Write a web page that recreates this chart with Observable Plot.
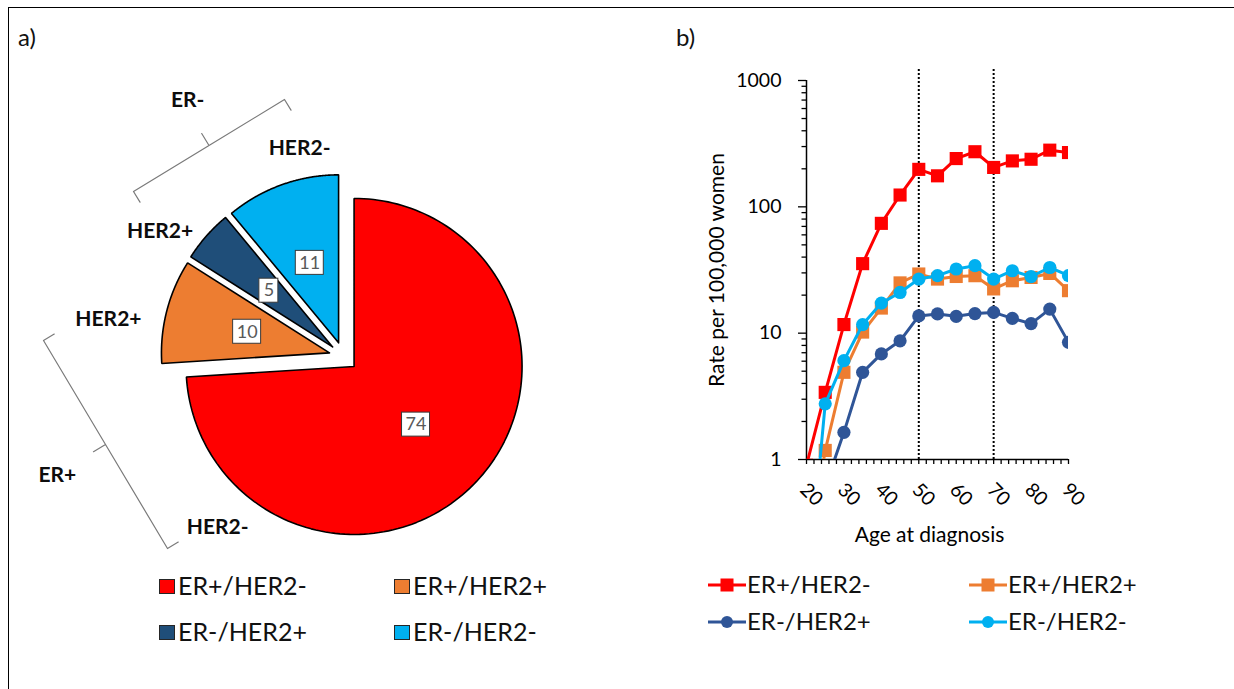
<!DOCTYPE html>
<html><head><meta charset="utf-8">
<script src="https://cdn.jsdelivr.net/npm/d3@7"></script>
<script src="https://cdn.jsdelivr.net/npm/@observablehq/plot@0.6"></script>
<style>
body{margin:0;background:#fff;font-family:Lato,"Open Sans",sans-serif;}
#root{position:relative;width:1234px;height:689px;overflow:hidden;background:#fff;}
.abs{position:absolute;white-space:nowrap;}
svg{overflow:visible;}
</style></head><body><div id="root"></div>
<script>
// ---------- data ----------
const subtypes = ["ER+/HER2-", "ER+/HER2+", "ER-/HER2+", "ER-/HER2-"];
const pieShares = [74, 10, 5, 11];
const pieColors = ["#FF0000", "#ED7D31", "#1F4E79", "#00B0F0"];
const lineColors = ["#FF0000", "#ED7D31", "#2F5597", "#00B0F0"];
const lineSymbols = ["square", "square", "circle", "circle"];

const ages = [20, 25, 30, 35, 40, 45, 50, 55, 60, 65, 70, 75, 80, 85, 90];
const rateERposHER2neg = [0.9, 3.4, 11.7, 35.5, 74, 124, 198, 176, 241, 273, 205, 231, 238, 281, 269];
const rateERposHER2pos = [0.15, 1.18, 4.9, 10.2, 15.8, 25, 29.4, 26.8, 28.1, 28.5, 22.4, 26, 27.6, 29.7, 21.7];
const rateERnegHER2pos = [null, 0.61, 1.64, 4.9, 6.85, 8.7, 13.7, 14.2, 13.6, 14.3, 14.6, 13.1, 11.9, 15.5, 8.46];
const rateERnegHER2neg = [0.07, 2.76, 6.06, 11.7, 17.3, 21, 26.8, 28.5, 32.2, 34.2, 26.8, 31.2, 28, 33.1, 28.5];
const rateSeries = [rateERposHER2neg, rateERposHER2pos, rateERnegHER2pos, rateERnegHER2neg];

const yTicks = [1, 10, 100, 1000];
const yMinorTicks = [2,3,4,5,6,7,8,9,20,30,40,50,60,70,80,90,200,300,400,500,600,700,800,900];
const xTickLabels = [20, 30, 40, 50, 60, 70, 80, 90];
const xMinorTicks = d3.range(20, 91, 2);
const cutAges = [50, 70];

const sliceLabels = ["HER2-", "HER2+", "HER2+", "HER2-"];
const groupLabels = ["ER+", "ER-"];

// ---------- page ----------
const root = document.getElementById("root");
function addText(txt, x, yc, fs, extra) {
  const d = document.createElement("div");
  d.className = "abs";
  d.textContent = txt;
  d.style.left = x + "px";
  d.style.top = (yc - 0.528 * fs) + "px";
  d.style.fontSize = fs + "px";
  d.style.lineHeight = fs + "px";
  d.style.color = "#111";
  Object.assign(d.style, extra || {});
  root.appendChild(d);
  return d;
}
function place(el, x, y) {
  const w = document.createElement("div");
  w.className = "abs"; w.style.left = x + "px"; w.style.top = y + "px";
  w.appendChild(el); root.appendChild(w);
}
// frame lines
const frame = document.createElement("div");
frame.className = "abs";
Object.assign(frame.style, {left: "8px", top: "7px", width: "1240px", height: "700px",
  borderTop: "1.5px solid #000", borderLeft: "1.5px solid #000"});
root.appendChild(frame);

addText("a)", 18, 37.5, 24);
addText("b)", 676, 37.5, 24);

// ---------- pie (panel a) ----------
const W1 = 620, H1 = 560;
const pieCenter = [343, 356], pieR = 168, explode = 14.5, labelDist = 85;
const pt = (a, r, o) => [o[0] + r * Math.sin(a), o[1] - r * Math.cos(a)];
const arcs = d3.pie().sort(null).startAngle(0).endAngle(2 * Math.PI)(pieShares);
const slicePolys = [];
const valueLabels = [];
arcs.forEach((a, i) => {
  const mid = (a.startAngle + a.endAngle) / 2;
  const apex = pt(mid, explode, pieCenter);
  const poly = [{x: apex[0], y: apex[1]}];
  const n = 160;
  for (let j = 0; j <= n; j++) {
    const t = a.startAngle + (a.endAngle - a.startAngle) * j / n;
    const p = pt(t, pieR, apex);
    poly.push({x: p[0], y: p[1]});
  }
  poly.push({x: apex[0], y: apex[1]});
  slicePolys.push(poly);
  const lp = pt(mid, labelDist, apex);
  valueLabels.push({x: lp[0], y: lp[1], v: pieShares[i], w: pieShares[i] >= 10 ? 28 : 19});
});
// annotation labels placed in polar coordinates around the pie centre (deg, px)
const sliceLabelPolar = [[216.4, 212], [279, 238], [304.3, 222], [348.1, 213]];
const groupLabelPolar = [[247.4, 310], [328.7, 300]];
const annot = [];
sliceLabelPolar.forEach(([deg, r], i) => { const p = pt(deg * Math.PI / 180, r, pieCenter); annot.push({x: p[0], y: p[1], t: sliceLabels[i]}); });
groupLabelPolar.forEach(([deg, r], i) => { const p = pt(deg * Math.PI / 180, r, pieCenter); annot.push({x: p[0], y: p[1], t: groupLabels[i]}); });
// braces: [start, end] in panel coords
const braceEnds = [[[43, 340], [167, 548]], [[133, 191], [284, 99]]];
function brace([p0, p1], hook, notch) {
  const dx = p1[0] - p0[0], dy = p1[1] - p0[1], L = Math.hypot(dx, dy);
  let nx = -dy / L, ny = dx / L;
  const mx = (p0[0] + p1[0]) / 2, my = (p0[1] + p1[1]) / 2;
  if ((pieCenter[0] - mx) * nx + (pieCenter[1] - my) * ny < 0) { nx = -nx; ny = -ny; }
  return [[p0[0] + hook * nx, p0[1] + hook * ny], p0, [mx, my], [mx - notch * nx, my - notch * ny], [mx, my], p1, [p1[0] + hook * nx, p1[1] + hook * ny]]
    .map(([x, y]) => ({x, y}));
}
const braces = braceEnds.map(b => brace(b, 12.5, 14));

const pie = Plot.plot({
  width: W1, height: H1, margin: 0,
  x: {domain: [0, W1], range: [0, W1], axis: null},
  y: {domain: [0, H1], range: [0, H1], axis: null},
  style: {fontFamily: "Lato", background: "transparent"},
  marks: [
    ...slicePolys.map((poly, i) => Plot.line(poly, {x: "x", y: "y", fill: pieColors[i], stroke: "#000", strokeWidth: 1.6, strokeLinejoin: "miter"})),
    Plot.rect(valueLabels, {x1: d => d.x - d.w / 2, x2: d => d.x + d.w / 2, y1: d => d.y - 12, y2: d => d.y + 12, fill: "#fff", stroke: "#3a3a3a", strokeWidth: 1}),
    Plot.text(valueLabels, {x: "x", y: "y", text: d => String(d.v), fill: "#595959", fontSize: 18}),
    ...braces.map(b => Plot.line(b, {x: "x", y: "y", stroke: "#7a7a7a", strokeWidth: 1.2, curve: "linear"})),
    Plot.text(annot, {x: "x", y: "y", text: "t", fontSize: 21, fontWeight: "bold", fill: "#0d0d0d"})
  ]
});
place(pie, 0, 0);

// pie legend
const pieLegendPos = [[159, 586], [394, 586], [159, 632.5], [394, 632.5]];
subtypes.forEach((s, i) => {
  const [x, y] = pieLegendPos[i];
  const sw = document.createElement("div");
  sw.className = "abs";
  Object.assign(sw.style, {left: x + "px", top: (y - 7.5) + "px", width: "16px", height: "15px",
    boxSizing: "border-box", border: "1.3px solid #262626", background: pieColors[i]});
  root.appendChild(sw);
  addText(s, x + 19, y, 25);
});

// ---------- line chart (panel b) ----------
const rows = [];
rateSeries.forEach((vals, s) => ages.forEach((a, j) => { if (vals[j] != null) rows.push({s, age: a, rate: vals[j]}); }));

const chart = Plot.plot({
  width: 614, height: 560,
  marginLeft: 186, marginRight: 166, marginTop: 80, marginBottom: 101,
  x: {type: "linear", domain: [20, 90]},
  y: {type: "log", domain: [1, 1000]},
  style: {fontFamily: "Lato", background: "transparent", color: "#000"},
  marks: [
    Plot.axisY({ticks: yTicks, tickSize: 8, tickPadding: 17, tickFormat: d => String(d), fontSize: 19.5, label: null, strokeWidth: 1.3}),
    Plot.axisY({ticks: yMinorTicks, tickSize: 4.5, tickFormat: () => "", label: null, strokeWidth: 1.3}),
    Plot.axisX({ticks: xMinorTicks, tickSize: 5, tickFormat: () => "", label: null, strokeWidth: 1.3}),
    Plot.text(xTickLabels, {x: d => d, frameAnchor: "bottom", dx: 5, dy: 35, rotate: 45, fontSize: 19.5, textAnchor: "middle", lineAnchor: "middle"}),
    Plot.ruleX(cutAges, {y1: 1, y2: 1250, stroke: "#000", strokeWidth: 2, strokeDasharray: "2,2"}),
    Plot.ruleX([20], {stroke: "#000", strokeWidth: 1.5}),
    Plot.ruleY([1], {stroke: "#000", strokeWidth: 1.5}),
    ...rateSeries.flatMap((_, s) => {
      const d = rows.filter(r => r.s === s);
      return [
        Plot.line(d, {x: "age", y: "rate", stroke: lineColors[s], strokeWidth: 3, clip: true}),
        Plot.dot(d, {x: "age", y: "rate", symbol: lineSymbols[s], r: lineSymbols[s] === "square" ? 7.4 : 6.6, fill: lineColors[s], stroke: "none", clip: true})
      ];
    }),
    Plot.text(["Rate per 100,000 women"], {frameAnchor: "left", dx: -89, rotate: -90, fontSize: 21, textAnchor: "middle", lineAnchor: "middle"}),
    Plot.text(["Age at diagnosis"], {frameAnchor: "bottom", dx: -8, dy: 76, fontSize: 21, textAnchor: "middle", lineAnchor: "middle"})
  ]
});
place(chart, 620, 0);

// line legend
const lineLegendPos = [[708, 585], [969, 585], [708, 622], [969, 622]];
subtypes.forEach((s, i) => {
  const [x, y] = lineLegendPos[i];
  const ns = "http://www.w3.org/2000/svg";
  const svg = document.createElementNS(ns, "svg");
  svg.setAttribute("width", 40); svg.setAttribute("height", 16);
  const ln = document.createElementNS(ns, "line");
  ln.setAttribute("x1", 0); ln.setAttribute("x2", 38); ln.setAttribute("y1", 8); ln.setAttribute("y2", 8);
  ln.setAttribute("stroke", lineColors[i]); ln.setAttribute("stroke-width", 3);
  svg.appendChild(ln);
  let m;
  if (lineSymbols[i] === "square") {
    m = document.createElementNS(ns, "rect");
    m.setAttribute("x", 12.5); m.setAttribute("y", 1.5); m.setAttribute("width", 13); m.setAttribute("height", 13);
  } else {
    m = document.createElementNS(ns, "circle");
    m.setAttribute("cx", 19); m.setAttribute("cy", 8); m.setAttribute("r", 6);
  }
  m.setAttribute("fill", lineColors[i]);
  svg.appendChild(m);
  svg.style.position = "absolute"; svg.style.left = x + "px"; svg.style.top = (y - 8) + "px";
  root.appendChild(svg);
  addText(s, x + 39, y, 24);
});
</script></body></html>
